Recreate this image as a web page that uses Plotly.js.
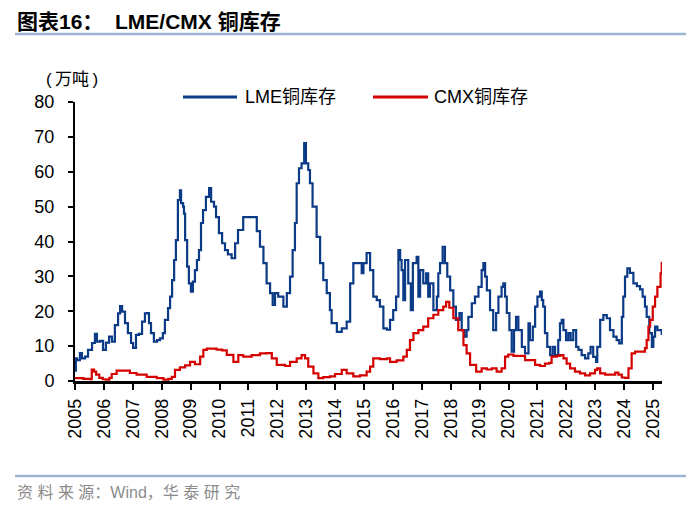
<!DOCTYPE html>
<html>
<head>
<meta charset="utf-8">
<script src="https://cdn.plot.ly/plotly-3.0.1.min.js"></script>
<style>
html,body{margin:0;padding:0;background:#fff;}
#chart{width:700px;height:508px;}
</style>
</head>
<body>
<div id="chart"></div>
<script>
// Tick labels (years)
const yearLabels = ['2005','2006','2007','2008','2009','2010','2011','2012','2013','2014','2015','2016','2017','2018','2019','2020','2021','2022','2023','2024','2025'];
const yearTicks = [2005,2006,2007,2008,2009,2010,2011,2012,2013,2014,2015,2016,2017,2018,2019,2020,2021,2022,2023,2024,2025];
const valueTicks = [0,10,20,30,40,50,60,70,80];

// LME copper inventory (10k tonnes)
const lmeTime = [2005.00,2005.03,2005.07,2005.17,2005.24,2005.35,2005.45,2005.59,2005.69,2005.76,2005.87,2005.97,2006.07,2006.18,2006.28,2006.38,2006.49,2006.56,2006.63,2006.73,2006.83,2006.94,2007.01,2007.11,2007.21,2007.32,2007.42,2007.49,2007.56,2007.63,2007.73,2007.84,2007.94,2008.04,2008.11,2008.22,2008.29,2008.36,2008.43,2008.49,2008.56,2008.63,2008.67,2008.74,2008.77,2008.81,2008.88,2008.94,2009.01,2009.08,2009.15,2009.22,2009.29,2009.36,2009.43,2009.53,2009.64,2009.71,2009.81,2009.88,2009.98,2010.09,2010.19,2010.29,2010.42,2010.54,2010.64,2010.82,2011.06,2011.23,2011.29,2011.40,2011.52,2011.63,2011.75,2011.84,2011.92,2012.03,2012.21,2012.33,2012.44,2012.53,2012.61,2012.67,2012.75,2012.84,2012.93,2012.99,2013.07,2013.13,2013.22,2013.36,2013.48,2013.59,2013.71,2013.82,2013.88,2014.06,2014.23,2014.40,2014.52,2014.63,2014.80,2014.92,2014.98,2015.09,2015.21,2015.32,2015.44,2015.55,2015.67,2015.79,2015.90,2016.01,2016.11,2016.19,2016.25,2016.30,2016.36,2016.42,2016.53,2016.62,2016.69,2016.82,2016.88,2016.94,2017.05,2017.15,2017.22,2017.28,2017.40,2017.52,2017.57,2017.63,2017.72,2017.80,2017.88,2017.98,2018.09,2018.18,2018.30,2018.38,2018.47,2018.55,2018.61,2018.73,2018.84,2018.96,2019.07,2019.13,2019.19,2019.25,2019.36,2019.47,2019.57,2019.65,2019.76,2019.82,2019.88,2019.94,2020.03,2020.11,2020.19,2020.26,2020.34,2020.46,2020.57,2020.69,2020.74,2020.84,2020.92,2021.00,2021.09,2021.15,2021.20,2021.26,2021.34,2021.44,2021.53,2021.61,2021.72,2021.78,2021.84,2021.90,2021.99,2022.07,2022.15,2022.24,2022.34,2022.42,2022.53,2022.65,2022.76,2022.84,2022.93,2023.03,2023.07,2023.17,2023.28,2023.40,2023.51,2023.63,2023.74,2023.83,2023.92,2023.97,2024.03,2024.11,2024.20,2024.32,2024.44,2024.55,2024.64,2024.72,2024.78,2024.87,2024.96,2025.01,2025.07,2025.15,2025.30];
const lmeStock = [3.0,6.5,6.0,8.0,6.5,7.0,8.9,10.9,13.5,11.3,11.5,8.9,11.0,12.7,11.3,16.0,19.4,21.5,19.9,16.6,13.7,10.9,9.5,13.2,13.5,17.0,19.4,19.5,16.6,13.7,11.3,11.7,12.2,13.7,17.5,20.9,24.2,28.9,34.7,40.4,51.9,54.7,51.0,50.0,48.0,40.4,32.8,28.0,25.6,28.5,31.8,34.7,37.5,45.3,49.0,52.8,55.3,51.4,50.0,47.0,42.4,39.5,37.5,36.3,35.2,39.5,43.3,47.0,47.0,47.0,43.0,38.5,33.8,28.0,25.2,21.8,25.2,24.2,21.3,25.2,29.9,37.5,45.3,56.7,61.0,62.4,68.2,62.4,60.5,56.7,50.0,41.3,33.8,28.9,25.2,20.3,16.6,14.1,15.1,17.0,28.0,33.8,33.8,30.9,33.8,36.7,31.8,24.2,23.2,21.3,15.1,14.7,17.5,20.3,24.2,37.5,34.7,31.8,23.2,34.7,28.0,20.3,33.8,35.6,24.2,31.8,28.0,30.9,24.2,28.0,20.3,24.2,30.9,33.8,38.5,33.8,29.9,26.0,21.3,17.5,19.5,14.6,12.7,14.6,18.4,22.3,24.2,27.0,31.8,33.8,29.9,26.0,20.3,14.6,19.5,24.2,27.0,28.0,24.2,19.5,14.6,8.4,14.6,18.4,14.6,9.8,7.9,16.5,11.7,15.6,21.3,24.2,25.6,23.2,21.3,13.7,9.8,7.4,9.8,7.4,11.7,16.5,17.5,14.6,11.7,13.7,11.7,14.6,9.8,8.9,7.4,6.5,7.9,9.8,6.9,5.5,9.8,17.5,18.9,18.0,14.6,12.7,11.7,10.8,18.4,24.2,29.9,32.3,31.0,28.0,27.2,26.3,24.2,21.3,18.4,13.7,9.8,12.7,15.6,14.6,13.2];

// COMEX copper inventory (10k tonnes)
const cmxTime = [2005.00,2005.29,2005.52,2005.58,2005.66,2005.73,2005.84,2005.96,2006.07,2006.19,2006.27,2006.44,2006.79,2006.90,2007.13,2007.48,2007.83,2008.06,2008.23,2008.35,2008.46,2008.63,2008.81,2008.98,2009.15,2009.33,2009.44,2009.56,2009.90,2010.09,2010.25,2010.48,2010.65,2010.82,2011.11,2011.40,2011.63,2011.81,2011.98,2012.27,2012.44,2012.67,2012.84,2012.96,2013.07,2013.25,2013.42,2013.59,2013.82,2014.00,2014.23,2014.40,2014.63,2014.86,2015.09,2015.21,2015.32,2015.55,2015.79,2015.90,2016.13,2016.36,2016.48,2016.59,2016.71,2016.88,2017.05,2017.22,2017.40,2017.57,2017.74,2017.84,2017.95,2018.09,2018.26,2018.44,2018.55,2018.67,2018.88,2019.07,2019.25,2019.42,2019.59,2019.76,2019.88,2019.99,2020.17,2020.40,2020.57,2020.74,2020.92,2021.09,2021.26,2021.41,2021.49,2021.67,2021.78,2021.90,2022.01,2022.13,2022.30,2022.47,2022.65,2022.82,2022.99,2023.07,2023.17,2023.34,2023.51,2023.69,2023.80,2023.92,2024.03,2024.15,2024.26,2024.38,2024.55,2024.72,2024.78,2024.84,2024.90,2024.99,2025.07,2025.15,2025.26,2025.30];
const cmxStock = [0.8,0.6,0.5,3.3,2.7,1.8,0.9,0.5,0.4,0.9,2.0,3.0,3.0,2.3,1.8,1.2,0.8,0.4,0.6,1.2,3.2,3.9,4.5,5.5,4.8,7.0,8.9,9.3,9.0,8.8,7.5,5.5,7.4,7.0,7.4,7.9,8.0,6.5,4.6,4.3,5.5,6.5,7.4,6.5,4.1,2.2,0.8,1.1,1.3,2.0,3.2,2.2,1.3,1.6,2.7,4.1,6.5,6.3,6.5,5.5,5.9,7.0,8.9,11.7,13.7,14.6,15.6,18.0,19.0,20.3,21.3,22.7,21.0,18.0,14.6,10.3,7.9,4.6,2.7,3.6,3.3,3.6,2.7,3.6,7.0,7.6,7.2,7.2,6.0,6.0,4.6,4.3,5.0,5.2,7.0,7.2,7.4,6.5,5.0,3.6,2.7,2.2,1.6,2.2,3.2,3.6,2.2,1.8,1.8,2.4,1.8,1.0,0.9,3.6,7.9,8.4,8.4,9.4,11.7,15.6,17.5,21.3,24.2,27.0,30.9,34.2];

const seriesNames = ['LME铜库存', 'CMX铜库存'];
const seriesColors = ['#0B3A86', '#D40000'];

const W = 700, H = 508;
const L = 75, R = 38, T = 102, B = 127;
const pw = W - L - R, ph = H - T - B;
const px = x => (x - L) / pw;
const py = y => (H - B - y) / ph;

const fontFam = 'Liberation Sans, Arial, "Noto Sans CJK SC", sans-serif';

const traces = [
  {x: lmeTime, y: lmeStock, name: seriesNames[0], type: 'scatter', mode: 'lines',
   line: {color: seriesColors[0], width: 2.2, shape: 'hv'}},
  {x: cmxTime, y: cmxStock, name: seriesNames[1], type: 'scatter', mode: 'lines',
   line: {color: seriesColors[1], width: 2.2, shape: 'hv'}}
];

// manual legend geometry (pixels)
const legItems = [
  {x0: 183, x1: 237, tx: 243},
  {x0: 373, x1: 428, tx: 432}
];
const legY = 97;

const shapes = [
  {type: 'line', xref: 'paper', yref: 'paper', x0: px(15), x1: px(686), y0: py(34), y1: py(34),
   line: {color: '#9DB4D0', width: 2.5}},
  {type: 'line', xref: 'paper', yref: 'paper', x0: px(15), x1: px(686), y0: py(476), y1: py(476),
   line: {color: '#9DB4D0', width: 2.5}}
];
const annotations = [
  {text: '<b>图表16：  LME/CMX 铜库存</b>', xref: 'paper', yref: 'paper', x: px(15), y: py(21),
   xanchor: 'left', yanchor: 'middle', showarrow: false,
   font: {size: 21, family: fontFam, color: '#000'}},
  {text: '(\u2009万吨\u2009)', xref: 'paper', yref: 'paper', x: px(72), y: py(79),
   xanchor: 'center', yanchor: 'middle', showarrow: false,
   font: {size: 17, family: fontFam, color: '#000'}},
  {text: '资 料 来 源：Wind，华 泰 研 究', xref: 'paper', yref: 'paper', x: px(15), y: py(492),
   xanchor: 'left', yanchor: 'middle', showarrow: false,
   font: {size: 16, family: fontFam, color: '#8C8C8C'}}
];
legItems.forEach((it, i) => {
  shapes.push({type: 'line', xref: 'paper', yref: 'paper', x0: px(it.x0), x1: px(it.x1), y0: py(legY), y1: py(legY),
               line: {color: seriesColors[i], width: 3}});
  annotations.push({text: seriesNames[i], xref: 'paper', yref: 'paper', x: px(it.tx), y: py(legY),
                    xanchor: 'left', yanchor: 'middle', showarrow: false,
                    font: {size: 18, family: fontFam, color: '#000'}});
});

const layout = {
  width: W, height: H,
  margin: {l: L, r: R, t: T, b: B, pad: 0},
  paper_bgcolor: '#fff', plot_bgcolor: '#fff',
  font: {family: fontFam, color: '#000', size: 17},
  showlegend: false,
  xaxis: {range: [2005, 2025.31], tickmode: 'array', tickvals: yearTicks, ticktext: yearLabels,
          tickangle: -90, showgrid: false, zeroline: false, showline: true, linecolor: '#000', linewidth: 2.5,
          ticks: 'outside', ticklen: 6, tickwidth: 2, tickcolor: '#000', ticklabelstandoff: 2,
          tickfont: {size: 18, family: fontFam, color: '#000'}, fixedrange: true},
  yaxis: {range: [0, 80], tickmode: 'array', tickvals: valueTicks,
          showgrid: false, zeroline: false, showline: true, linecolor: '#000', linewidth: 2,
          ticks: 'outside', ticklen: 5, tickwidth: 2, tickcolor: '#000', ticklabelstandoff: 10,
          tickfont: {size: 18, family: fontFam, color: '#000'}, fixedrange: true},
  shapes: shapes,
  annotations: annotations
};

Plotly.newPlot('chart', traces, layout, {displayModeBar: false, staticPlot: true});
</script>
</body>
</html>
